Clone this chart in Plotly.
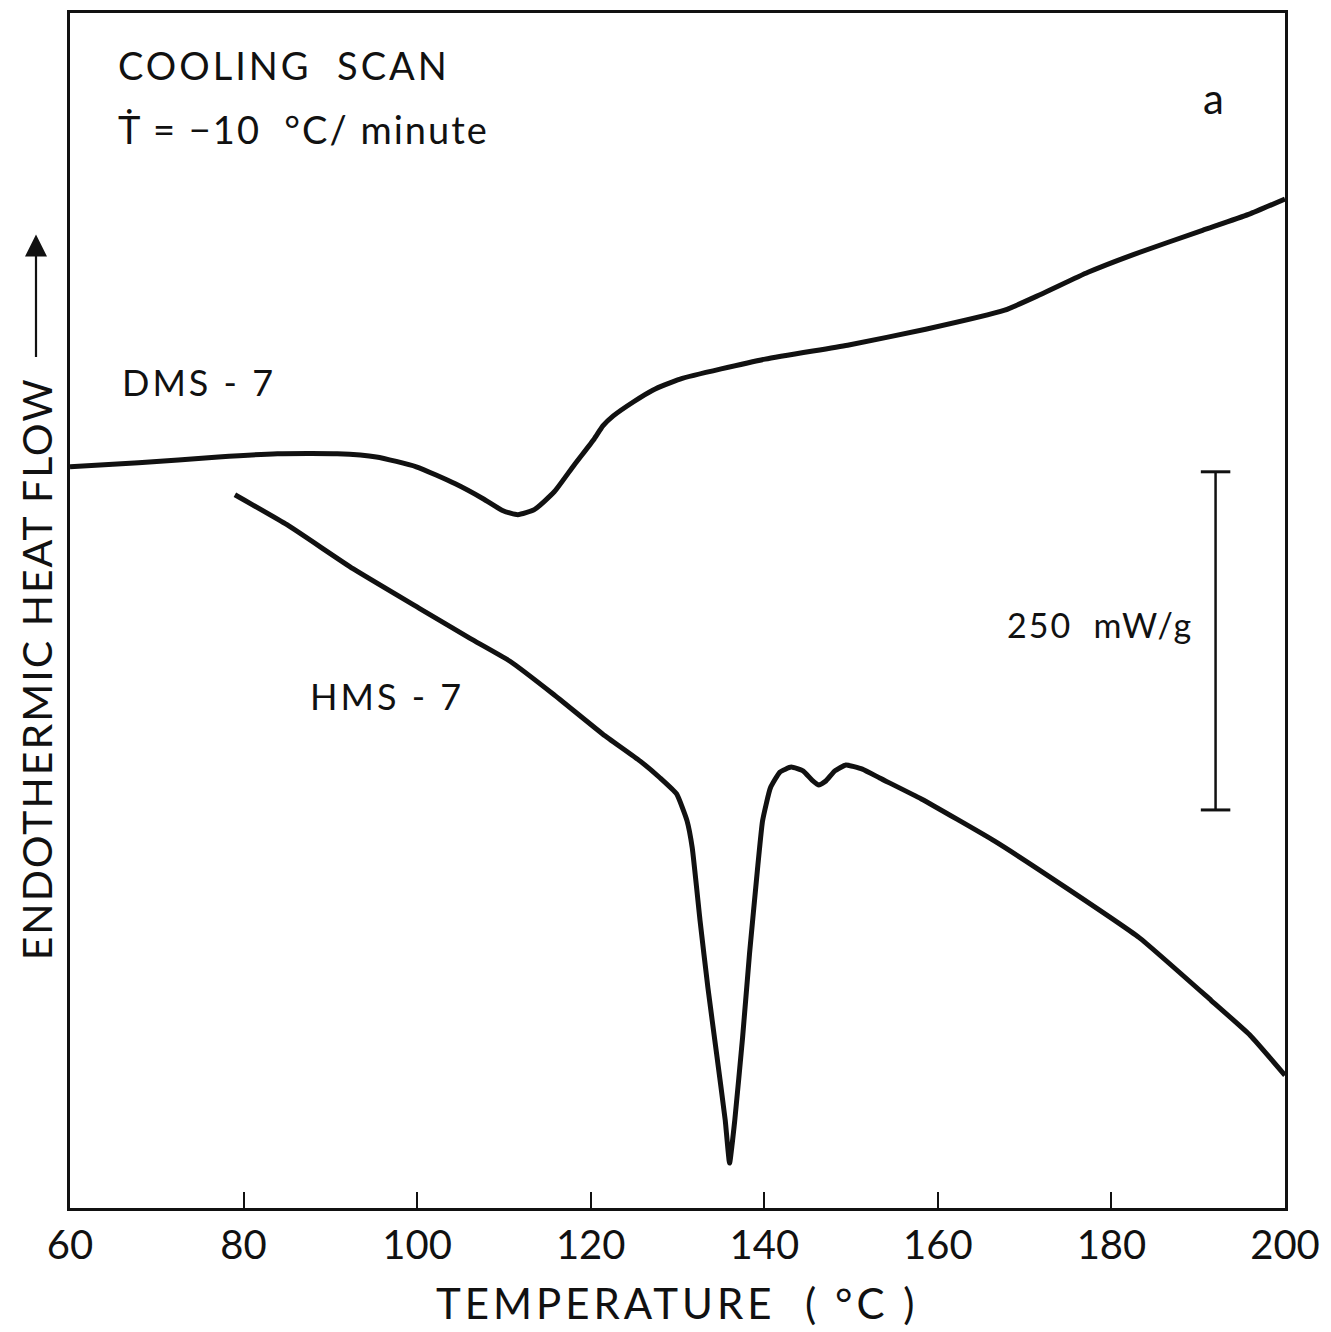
import plotly.graph_objects as go

# ---- data (temperature in °C, heat flow in mW/g, arbitrary zero) ----
dms_T = [60.0, 67.9, 77.1, 83.9, 90.8, 95.3, 99.9, 104.4, 107.6, 109.9, 111.6, 113.5,
         115.8, 118.1, 120.4, 121.4, 122.6, 124.9, 127.2, 130.3, 140.1, 149.6, 158.6,
         167.7, 171.9, 177.3, 182.6, 190.5, 195.8, 200.0]
dms_Q = [548.0, 550.9, 555.3, 557.6, 557.6, 555.3, 548.0, 535.4, 524.4, 515.5, 512.6, 516.3,
         529.5, 549.4, 568.6, 578.2, 585.6, 595.9, 604.8, 612.9, 627.6, 637.9, 649.7,
         663.8, 675.6, 691.8, 705.1, 722.8, 734.6, 746.0]

hms_T = [79.0, 85.0, 92.6, 100.3, 106.1, 110.7, 115.7, 121.4, 125.7, 128.0, 129.9, 131.1,
         131.7, 132.6, 133.5, 134.5, 135.5, 136.0, 136.6, 137.5, 138.3, 139.2, 139.8,
         140.7, 141.8, 143.1, 144.5, 145.5, 146.3, 147.1, 148.1, 149.4, 151.3, 153.3,
         158.1, 166.5, 174.8, 183.2, 191.5, 196.0, 200.0]
hms_Q = [527.3, 505.2, 472.7, 443.2, 421.1, 404.2, 379.8, 350.3, 330.4, 317.9, 306.1, 286.2,
         266.2, 212.4, 163.0, 114.3, 64.9, 33.2, 64.9, 126.1, 188.1, 249.3, 286.2,
         310.5, 322.3, 326.0, 323.0, 316.4, 312.7, 315.7, 323.0, 327.5, 324.5, 317.9,
         302.4, 271.4, 236.7, 199.9, 153.4, 127.6, 98.1]

x_ticks = [60, 80, 100, 120, 140, 160, 180, 200]
x_range = [60, 200]
y_range = [0, 883.5]

scale_bar_T = 192.0
scale_bar_bottom = 294.3
scale_bar_value = 250  # mW/g

FONT = "Lato"
INK = "#111111"

fig = go.Figure()
fig.add_trace(go.Scatter(x=dms_T, y=dms_Q, mode="lines", name="DMS-7",
                         line=dict(color=INK, width=5, shape="spline", smoothing=0.5)))
fig.add_trace(go.Scatter(x=hms_T, y=hms_Q, mode="lines", name="HMS-7",
                         line=dict(color=INK, width=5, shape="spline", smoothing=0.4)))

# scale bar
sb_top = scale_bar_bottom + scale_bar_value
fig.add_shape(type="line", x0=scale_bar_T, x1=scale_bar_T, y0=scale_bar_bottom, y1=sb_top,
              line=dict(color=INK, width=2.5))
for yy in (scale_bar_bottom, sb_top):
    fig.add_shape(type="line", x0=scale_bar_T - 1.7, x1=scale_bar_T + 1.7, y0=yy, y1=yy,
                  line=dict(color=INK, width=3))

ann = []
def sp(s, ls):
    return '<span style="letter-spacing:%dpx">%s</span>' % (ls, s)

def txt(x, y, s, size, xanchor="left", xref="x", yref="y", angle=0):
    ann.append(dict(x=x, y=y, xref=xref, yref=yref, text=s, showarrow=False,
                    xanchor=xanchor, yanchor="middle", textangle=angle,
                    font=dict(family=FONT, size=size, color=INK)))

# paper helpers: plot area px 70..1285 (x), 10..1208 (y)
def px(xp):
    return (xp - 70) / 1215.0
def py(yp):
    return (1208 - yp) / 1198.0

txt(px(116), py(62), sp("COOLING  SCAN", 3), 38, xref="paper", yref="paper")
txt(px(116), py(126), sp("Ṫ = −10  °C/ minute", 2), 38, xref="paper", yref="paper")
txt(px(1213), py(95), "a", 42, xanchor="center", xref="paper", yref="paper")
txt(px(120), py(380), sp("DMS - 7", 3), 36, xref="paper", yref="paper")
txt(px(308), py(695), sp("HMS - 7", 3), 36, xref="paper", yref="paper")
txt(px(1005), py(623), sp("250  mW/g", 2), 34, xref="paper", yref="paper")
txt(px(677), py(1303), sp("TEMPERATURE  ( °C )", 4), 42, xanchor="center", xref="paper", yref="paper")
txt(px(36), py(668), sp("ENDOTHERMIC HEAT FLOW", 2), 41, xanchor="center", xref="paper", yref="paper", angle=-90)

# arrow on the y title
ann.append(dict(x=px(36), y=py(232), xref="paper", yref="paper", text="",
                showarrow=True, ax=0, ay=124, arrowhead=2, arrowsize=2,
                arrowwidth=2.2, arrowcolor=INK))

fig.update_layout(
    width=1331, height=1332,
    margin=dict(l=70, r=46, t=10, b=124),
    paper_bgcolor="white", plot_bgcolor="white",
    showlegend=False,
    annotations=ann,
    font=dict(family=FONT, color=INK),
)
fig.update_xaxes(range=x_range, tickvals=x_ticks, ticktext=[str(t) for t in x_ticks],
                 ticks="inside", ticklen=16, tickwidth=2, tickcolor=INK,
                 showline=True, linecolor=INK, linewidth=2.5, mirror=True,
                 showgrid=False, zeroline=False,
                 tickfont=dict(family=FONT, size=40, color=INK))
fig.update_yaxes(range=y_range, showticklabels=False, ticks="",
                 showline=True, linecolor=INK, linewidth=2.5, mirror=True,
                 showgrid=False, zeroline=False)

fig.write_html("out.html")
